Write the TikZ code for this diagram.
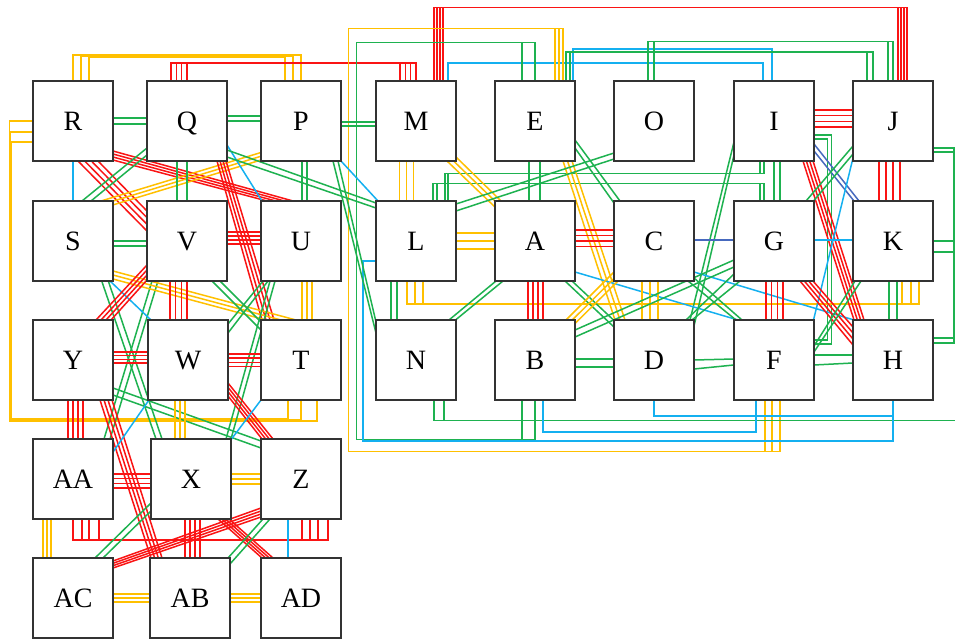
\documentclass[tikz,border=0pt]{standalone}
\usepackage{fontspec}
\setmainfont{Liberation Serif}
\usetikzlibrary{calc}
\pgfdeclarelayer{edges}
\pgfsetlayers{edges,main}
\definecolor{cg}{RGB}{30,178,80}
\definecolor{cr}{RGB}{250,20,20}
\definecolor{cy}{RGB}{255,192,0}
\definecolor{cb}{RGB}{20,176,240}
\definecolor{cdb}{RGB}{70,105,190}
\definecolor{cbox}{RGB}{51,51,51}
\tikzset{
  ln/.style={line width=1.5pt},
  gl/.style={ln,draw=cg},
  rl/.style={ln,draw=cr},
  yl/.style={ln,draw=cy},
  bl/.style={ln,draw=cb},
  dbl/.style={ln,draw=cdb},
  box/.style={draw=cbox,line width=1.6pt,fill=white,minimum size=80pt,inner sep=0pt,
    text height=18.5pt,text depth=0pt,font=\fontsize{28}{28}\selectfont}
}
% multi-line connector: style, count, node A, first/last offset on A, node B, first/last offset on B
\newcommand\ML[8]{%
  \coordinate (mlA) at ($(#3)+(#4)$);%
  \coordinate (mlB) at ($(#3)+(#5)$);%
  \coordinate (mlC) at ($(#6)+(#7)$);%
  \coordinate (mlD) at ($(#6)+(#8)$);%
  \foreach \mlk in {1,...,#2}{%
    \pgfmathsetmacro\mlt{(\mlk-1)/max(#2-1,1)}%
    \draw[#1] ($(mlA)!\mlt!(mlB)$) -- ($(mlC)!\mlt!(mlD)$);%
  }%
}
\begin{document}
\begin{tikzpicture}[x=1pt,y=-1pt]
\useasboundingbox (0,0) rectangle (955,639);
% nodes
\node[box] (R) at (73,121) {R};
\node[box] (Q) at (187,121) {Q};
\node[box] (P) at (301,121) {P};
\node[box] (M) at (416,121) {M};
\node[box] (E) at (535,121) {E};
\node[box] (O) at (654,121) {O};
\node[box] (I) at (774,121) {I};
\node[box] (J) at (893,121) {J};
\node[box] (S) at (73,241) {S};
\node[box] (V) at (187,241) {V};
\node[box] (U) at (301,241) {U};
\node[box] (L) at (416,241) {L};
\node[box] (A) at (535,241) {A};
\node[box] (C) at (654,241) {C};
\node[box] (G) at (774,241) {G};
\node[box] (K) at (893,241) {K};
\node[box] (Y) at (73,360) {Y};
\node[box] (W) at (188,360) {W};
\node[box] (T) at (301,360) {T};
\node[box] (N) at (416,360) {N};
\node[box] (B) at (535,360) {B};
\node[box] (D) at (654,360) {D};
\node[box] (F) at (774,360) {F};
\node[box] (H) at (893,360) {H};
\node[box] (AA) at (73,479) {AA};
\node[box] (X) at (191,479) {X};
\node[box] (Z) at (301,479) {Z};
\node[box] (AC) at (73,598) {AC};
\node[box] (AB) at (190,598) {AB};
\node[box] (AD) at (301,598) {AD};

\begin{pgfonlayer}{edges}
\fill[white] (0,0) rectangle (955,639);
% ---------- routed connectors ----------
\foreach \ua/\ub/\uh in {0/0/-66, 8/-8/-65, 16/-16/-64}
  \draw[yl] ($(R)+(\ua,-40)$) -- ($(R)+(\ua,\uh)$) -| ($(P)+(\ub,-40)$);
\foreach \ua/\ub in {-16/0, -10.7/-5.3, -5.3/-10.7, 0/-16}
  \draw[rl] ($(Q)+(\ua,-40)$) |- ($(M)+(\ub,-58)$) -- ($(M)+(\ub,-40)$);
\foreach \ua/\ub in {18/14, 21/11, 24/8, 27/5}
  \draw[rl] ($(M)+(\ua,-40)$) |- ($(J)+(\ub,-113.5)$) -- ($(J)+(\ub,-40)$);
\draw[bl] ($(M)+(32,-40)$) |- ($(I)+(-11,-58)$) -- ($(I)+(-11,-40)$);
\draw[bl] ($(E)+(38,-40)$) |- ($(I)+(-2,-72)$) -- ($(I)+(-2,-40)$);
\foreach \ua/\ub in {31/-20, 35/-26}
  \draw[gl] ($(E)+(\ua,-40)$) |- ($(J)+(\ub,-69)$) -- ($(J)+(\ub,-40)$);
\foreach \ua/\ub in {-6/-5, 0/0}
  \draw[gl] ($(O)+(\ua,-40)$) |- ($(J)+(\ub,-79.3)$) -- ($(J)+(\ub,-40)$);
\foreach \ua in {-13,0}
  \draw[gl] ($(E)+(\ua,-40)$) |- (356.5,42.3) |- ($(B)+(\ua,79.5)$) -- ($(B)+(\ua,40)$);
\foreach \ua/\ub in {20/-9, 24/-2, 28/6}
  \draw[yl] ($(E)+(\ua,-40)$) |- (348.5,28.3) |- ($(F)+(\ub,91.7)$) -- ($(F)+(\ub,40)$);
\foreach \ua/\uc/\ud/\ub in {0/9.5/421/16, 11/10.5/420/0, 21/11.5/419/-13}
  \draw[yl] ($(R)+(-40,\ua)$) -| (\uc,\ud) -| ($(T)+(\ub,40)$);
\foreach \ua/\ub in {0/1, 9/9, 16/17, 26/27}
  \draw[rl] ($(AA)+(\ua,40)$) |- ($(Z)+(\ub,61)$) -- ($(Z)+(\ub,40)$);
\foreach \ua/\ub in {29/-14, 32/-10}
  \draw[gl] ($(L)+(\ua,-40)$) |- ($(I)+(\ub,52.3)$) -- ($(I)+(\ub,40)$);
\foreach \ua/\ub in {17/-14, 21/-10}
  \draw[gl] ($(L)+(\ua,-40)$) |- ($(G)+(\ub,-57.7)$) -- ($(G)+(\ub,-40)$);
\draw[gl] ($(I)+(40,14)$) -| ($(F)+(57.7,-16)$) -- ($(F)+(40,-16)$);
\draw[gl] ($(I)+(40,18)$) -| ($(F)+(53.7,-20)$) -- ($(F)+(40,-20)$);
\draw[gl] ($(J)+(40,27)$) -| ($(H)+(61,-22)$) -- ($(H)+(40,-22)$);
\draw[gl] ($(J)+(40,31)$) -| ($(H)+(61,-17)$) -- ($(H)+(40,-17)$);
\foreach \ua in {0,11}
  \draw[gl] ($(K)+(40,\ua)$) -| ($(H)+(61,-22)$);
\foreach \ua/\ub in {9/-9, 18/-1, 26/7}
  \draw[yl] ($(K)+(\ua,40)$) |- ($(L)+(\ub,63)$) -- ($(L)+(\ub,40)$);
\coordinate (nE) at (957,420.7);
\foreach \ua in {18,28}
  \draw[gl] ($(N)+(\ua,40)$) |- (nE);
\draw[bl] ($(L)+(-40,20)$) -| (363,441) -| ($(H)+(0,40)$);
\draw[bl] ($(D)+(0,40)$) |- ($(H)+(0,56)$) -- ($(H)+(0,40)$);
\draw[bl] ($(B)+(8,40)$) |- ($(F)+(-18,72)$) -- ($(F)+(-18,40)$);
% ---------- straight connectors, left block ----------
\ML{gl}{2}{R}{40,-3}{40,3}{Q}{-40,-3}{-40,3}
\ML{gl}{2}{Q}{40,-5}{40,0}{P}{-40,-5}{-40,0}
\ML{gl}{2}{P}{40,1}{40,5}{M}{-40,1}{-40,5}
\ML{bl}{1}{R}{0,40}{0,40}{S}{0,-40}{0,-40}
\ML{rl}{4}{R}{5,40}{25,40}{V}{-40,-10}{-40,-30}
\ML{rl}{4}{R}{40,30}{40,39}{U}{-8,-40}{-34,-40}
\ML{gl}{2}{Q}{-40,27}{-40,34}{S}{9,-40}{18,-40}
\ML{yl}{3}{P}{-40,31.5}{-40,39}{S}{28,-40}{39.7,-36}
\ML{gl}{2}{Q}{-10,40}{0,40}{V}{-10,-40}{0,-40}
\ML{rl}{4}{Q}{30,40}{39,40}{T}{-39,-40}{-27,-40}
\ML{bl}{1}{Q}{40,24}{40,24}{U}{-39,-40}{-39,-40}
\ML{gl}{2}{Q}{40,29}{40,36}{L}{-40,-38}{-40,-33}
\ML{gl}{2}{P}{1,40}{6,40}{U}{1,-40}{6,-40}
\ML{gl}{2}{P}{32,40}{37,40}{N}{-40,-27}{-40,-38}
\ML{bl}{1}{P}{40,40}{40,40}{L}{-38,-40}{-38,-40}
\ML{gl}{2}{S}{40,0}{40,5}{V}{-40,0}{-40,5}
\ML{rl}{4}{V}{40,-9}{40,3}{U}{-40,-9}{-40,3}
\ML{gl}{2}{S}{28.7,40}{35.3,40}{X}{-35,-40}{-29,-40}
\ML{gl}{2}{V}{-35,40}{-29,40}{AA}{31,-40}{37,-40}
\ML{bl}{1}{S}{37,40}{37,40}{W}{-37,-40}{-37,-40}
\ML{yl}{3}{S}{40,30}{40,38}{T}{-5,-40}{-35,-40}
\ML{rl}{4}{V}{-40,24}{-40,39}{Y}{23,-40}{38,-40}
\ML{rl}{4}{V}{-17,40}{0,40}{W}{-18,-40}{-1,-40}
\ML{gl}{2}{V}{25,40}{33,40}{T}{-40,-30}{-40,-38}
\ML{gl}{2}{U}{-38,40}{-33,40}{W}{40,-36}{40,-27}
\ML{gl}{2}{U}{-31,40}{-26,40}{X}{35,-40}{40,-40}
\ML{yl}{3}{U}{1,40}{11,40}{T}{1,-40}{11,-40}
\ML{rl}{4}{Y}{40,-8}{40,3}{W}{-40,-8}{-40,3}
\ML{rl}{4}{W}{40,-6}{40,6.7}{T}{-40,-6}{-40,6.7}
\ML{rl}{4}{Y}{-5,40}{10,40}{AA}{-5,-40}{10,-40}
\ML{rl}{4}{Y}{27,40}{39,40}{AB}{-39,-40}{-28,-40}
\ML{gl}{2}{Y}{40,28}{40,35}{Z}{-40,-38}{-40,-31}
\ML{yl}{3}{W}{-13,40}{-3,40}{X}{-16,-40}{-6,-40}
\ML{rl}{4}{W}{40,23}{40,36}{Z}{-28,-40}{-39,-40}
\ML{bl}{1}{W}{-39,40}{-39,40}{AA}{40,-27}{40,-27}
\ML{bl}{1}{T}{-40,40}{-40,40}{X}{39,-38}{39,-38}
\ML{rl}{4}{AA}{40,-5}{40,9}{X}{-40,-5}{-40,9}
\ML{yl}{3}{X}{40,-5}{40,5}{Z}{-40,-5}{-40,5}
\ML{yl}{3}{AA}{-30,40}{-22,40}{AC}{-30,-40}{-22,-40}
\ML{rl}{4}{X}{-6,40}{9,40}{AB}{-5,-40}{10,-40}
\ML{rl}{4}{AC}{40,-37}{40,-30}{Z}{-40,29}{-40,38}
\ML{gl}{2}{X}{-40,24}{-40,32}{AC}{22,-40}{30,-40}
\ML{rl}{4}{X}{27,40}{38,40}{AD}{-39,-40}{-28,-40}
\ML{gl}{2}{Z}{-38,40}{-31,40}{AB}{38,-40}{40,-34}
\ML{bl}{1}{Z}{-13,40}{-13,40}{AD}{-13,-40}{-13,-40}
\ML{yl}{3}{AC}{40,-4}{40,4}{AB}{-40,-4}{-40,4}
\ML{yl}{3}{AB}{40,-4}{40,4}{AD}{-40,-4}{-40,4}
% ---------- straight connectors, right block ----------
\ML{yl}{3}{M}{-16.7,40}{-2.7,40}{L}{-16.7,-40}{-2.7,-40}
\ML{yl}{3}{M}{31,40}{40,36}{A}{-40,-34}{-34,-40}
\ML{gl}{2}{E}{-6,40}{5,40}{A}{-6,-40}{5,-40}
\ML{yl}{3}{E}{28,40}{37,40}{D}{-39,-40}{-29,-40}
\ML{gl}{2}{E}{40,19}{40,27}{C}{-34,-40}{-40,-38}
\ML{gl}{2}{O}{-40,32}{-40,38}{L}{40,-37}{40,-30}
\ML{gl}{2}{I}{0,40}{6,40}{G}{0,-40}{6,-40}
\ML{gl}{2}{I}{-40,21}{-40,34}{D}{36,-40}{40,-34}
\ML{rl}{4}{I}{29,40}{39,40}{H}{-39,-40}{-29,-40}
\ML{dbl}{2}{I}{40,23}{40,30}{K}{-34,-40}{-39,-40}
\ML{rl}{4}{I}{40,-11}{40,6}{J}{-40,-11}{-40,6}
\ML{rl}{4}{J}{-14,40}{7,40}{K}{-14,-40}{7,-40}
\ML{gl}{2}{J}{-40,25}{-40,33}{G}{32,-40}{39.5,-40}
\ML{bl}{1}{J}{-40,37}{-40,37}{F}{39.5,-40}{39.5,-40}
\ML{gl}{2}{K}{-4,40}{4,40}{H}{-4,-40}{4,-40}
\ML{bl}{1}{G}{40,-1}{40,-1}{K}{-40,-1}{-40,-1}
\ML{dbl}{1}{C}{40,-1}{40,-1}{G}{-40,-1}{-40,-1}
\ML{yl}{3}{L}{40,-8}{40,8}{A}{-40,-8}{-40,8}
\ML{rl}{4}{A}{40,-11}{40,5.5}{C}{-40,-11}{-40,5.5}
\ML{gl}{2}{L}{-25,40}{-19,40}{N}{-25,-40}{-19,-40}
\ML{gl}{2}{A}{-39,40}{-32,40}{N}{33,-40}{39.5,-40}
\ML{rl}{4}{A}{-7,40}{8,40}{B}{-7,-40}{8,-40}
\ML{gl}{2}{A}{30,40}{37,40}{D}{-40,-33}{-40,-39.5}
\ML{bl}{1}{A}{40,31}{40,31}{F}{-36,-40}{-36,-40}
\ML{bl}{1}{C}{40,31}{40,31}{H}{-39,-40}{-39,-40}
\ML{yl}{3}{C}{-40,31}{-36,40}{B}{31,-40}{39.5,-36}
\ML{yl}{3}{C}{-12,40}{4,40}{D}{-12,-40}{4,-40}
\ML{gl}{2}{B}{40,-30}{40,-23}{G}{-40,19}{-40,26}
\ML{gl}{2}{C}{34,40}{40,37}{F}{-38,-40}{-32,-40}
\ML{gl}{2}{D}{32,-40}{38,-40}{G}{-40,33}{-34,40}
\ML{rl}{4}{G}{-8,40}{9,40}{F}{-8,-40}{9,-40}
\ML{rl}{4}{G}{26,40}{39,40}{H}{-40,-15}{-40,-33}
\ML{gl}{2}{K}{-38,40}{-32,40}{F}{40,-14}{40,-8}
\ML{gl}{2}{B}{40,-1}{40,7}{D}{-40,-1}{-40,7}
\ML{gl}{2}{D}{40,0}{40,9}{F}{-40,-1}{-40,5}
\ML{gl}{2}{F}{40,-5}{40,5}{H}{-40,-5}{-40,3}
\end{pgfonlayer}
\end{tikzpicture}
\end{document}
